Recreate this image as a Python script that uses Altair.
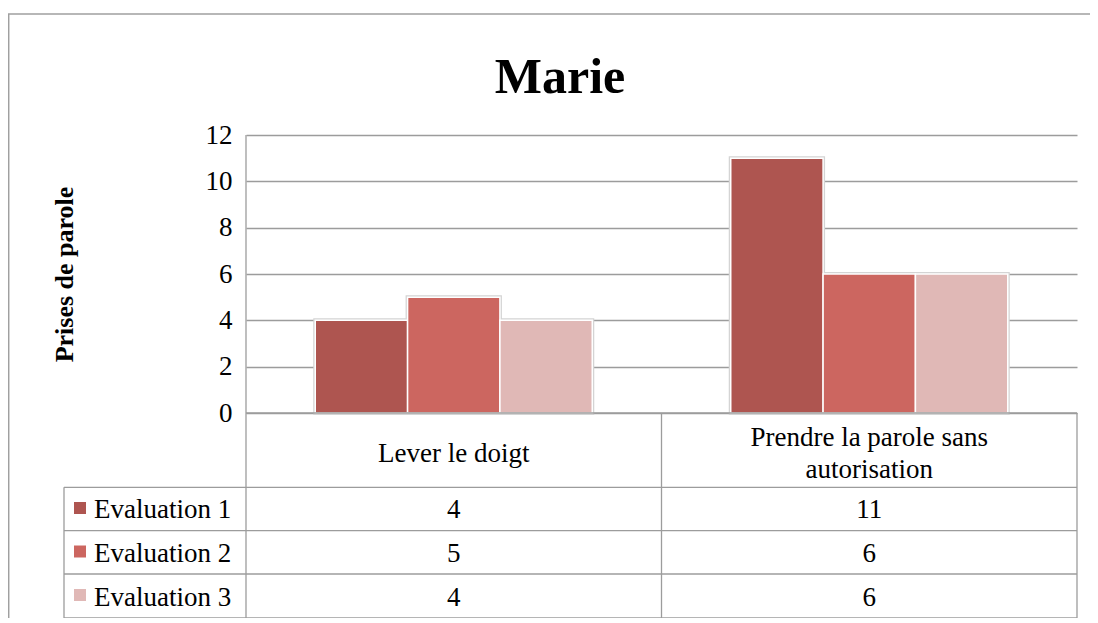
import altair as alt
import pandas as pd

# ---- data ----
categories = ["Lever le doigt", "Prendre la parole sans autorisation"]
header_labels = ["Lever le doigt", "Prendre la parole sans\nautorisation"]
header_lines = [1, 2]
series = ["Evaluation 1", "Evaluation 2", "Evaluation 3"]
eval_1 = [4, 11]
eval_2 = [5, 6]
eval_3 = [4, 6]
colors = ["#AE5550", "#CC6660", "#E0B8B6"]
y_ticks = [0, 2, 4, 6, 8, 10, 12]
title_text = "Marie"
y_title = "Prises de parole"

values = [eval_1, eval_2, eval_3]
rows = []
for s, vals in zip(series, values):
    for c, v in zip(categories, vals):
        rows.append({"category": c, "series": s, "value": v})
df = pd.DataFrame(rows)
hdr = pd.DataFrame({"category": categories, "label": header_labels, "lines": header_lines})
leg = pd.DataFrame({"series": series})
one = pd.DataFrame({"k": [0]})

FONT = "Liberation Serif"
W, H = 831, 278
GRID = "#9c9c9c"
LW = 1.3
LINE_H = 32

# table layout (pixels relative to the plot area)
ROW_LINES = [352.3, 395.7, 439, 483]
ROW_TEXT_Y = [375, 419, 463]
ROW_SQ_Y = [373, 416.5, 460]
HEADER_Y = 318.5
LEG_LEFT = -182

x_scale = alt.Scale(domain=categories, paddingInner=1 / 3, paddingOuter=1 / 6)
x_enc = alt.X("category:N", scale=x_scale, axis=None, sort=categories)
off_enc = alt.XOffset("series:N", sort=series,
                      scale=alt.Scale(domain=series, paddingInner=0, paddingOuter=0))
color_scale = alt.Scale(domain=series, range=colors)
y_enc = alt.Y("value:Q", scale=alt.Scale(domain=[0, 12], nice=False),
              axis=alt.Axis(values=y_ticks, title=y_title, grid=True, gridColor=GRID,
                            gridWidth=LW, domain=False, ticks=False, labelPadding=14,
                            labelFont=FONT, labelFontSize=27, labelColor="black",
                            titleFont=FONT, titleFontSize=26, titleFontWeight="bold",
                            titleColor="black", titleX=-174, titleY=139, titleAngle=270,
                            titleAlign="center", titleBaseline="alphabetic"))

shadow = alt.Chart(df).mark_bar(fill="white", fillOpacity=0, stroke="#d4d4d4",
                                strokeWidth=4).encode(x=x_enc, xOffset=off_enc, y=y_enc)

bars = alt.Chart(df).mark_bar(stroke="white", strokeWidth=1.5).encode(
    x=x_enc, xOffset=off_enc, y=y_enc,
    color=alt.Color("series:N", scale=color_scale, legend=None),
)

base = alt.Chart(one)


def hline(y, x1, x2):
    return base.mark_rule(color=GRID, strokeWidth=LW).encode(
        x=alt.value(x1), x2=alt.value(x2), y=alt.value(y))


def vline(x, y1, y2):
    return base.mark_rule(color=GRID, strokeWidth=LW).encode(
        x=alt.value(x), y=alt.value(y1), y2=alt.value(y2))


border = base.mark_rect(fill="white", fillOpacity=0, stroke="#a0a0a0", strokeWidth=1.5).encode(
    x=alt.value(-237.3), x2=alt.value(900), y=alt.value(-121), y2=alt.value(700))

lines = [
    vline(0, 0, ROW_LINES[-1]),
    vline(W / 2, H, ROW_LINES[-1]),
    vline(W, H, ROW_LINES[-1]),
    vline(LEG_LEFT, ROW_LINES[0], ROW_LINES[-1]),
    hline(H, 0, W),
] + [hline(y, LEG_LEFT, W) for y in ROW_LINES]

headers = []
for n in sorted(set(header_lines)):
    headers.append(
        alt.Chart(hdr).transform_filter(alt.datum.lines == n).mark_text(
            font=FONT, fontSize=27, lineBreak="\n", lineHeight=LINE_H, baseline="middle",
            align="center", color="black"
        ).encode(x=x_enc, y=alt.value(HEADER_Y - (n - 1) * LINE_H / 2), text="label:N"))

table_layers = []
for i, s in enumerate(series):
    table_layers.append(
        alt.Chart(df).transform_filter(alt.datum.series == s).mark_text(
            font=FONT, fontSize=27, baseline="middle", align="center", color="black"
        ).encode(x=x_enc, y=alt.value(ROW_TEXT_Y[i]), text="value:Q"))
    table_layers.append(
        alt.Chart(leg).transform_filter(alt.datum.series == s).mark_square(
            size=144, opacity=1
        ).encode(x=alt.value(-166), y=alt.value(ROW_SQ_Y[i]),
                 color=alt.Color("series:N", scale=color_scale, legend=None)))
    table_layers.append(
        alt.Chart(leg).transform_filter(alt.datum.series == s).mark_text(
            font=FONT, fontSize=27, baseline="middle", align="left", color="black"
        ).encode(x=alt.value(-152), y=alt.value(ROW_TEXT_Y[i]), text="series:N"))

title = base.mark_text(font=FONT, fontSize=50, fontWeight="bold", align="center",
                       baseline="alphabetic", color="black").encode(
    x=alt.value(314), y=alt.value(-42), text=alt.value(title_text))

chart = alt.layer(border, shadow, bars, *lines, *headers, *table_layers, title).properties(
    width=W, height=H,
    autosize=alt.AutoSizeParams(type="none"),
    padding={"left": 238, "top": 127, "right": 13, "bottom": 205},
    background="white",
).configure_view(stroke=None)

chart.save("out.html", embed_options={"renderer": "svg", "actions": False})
